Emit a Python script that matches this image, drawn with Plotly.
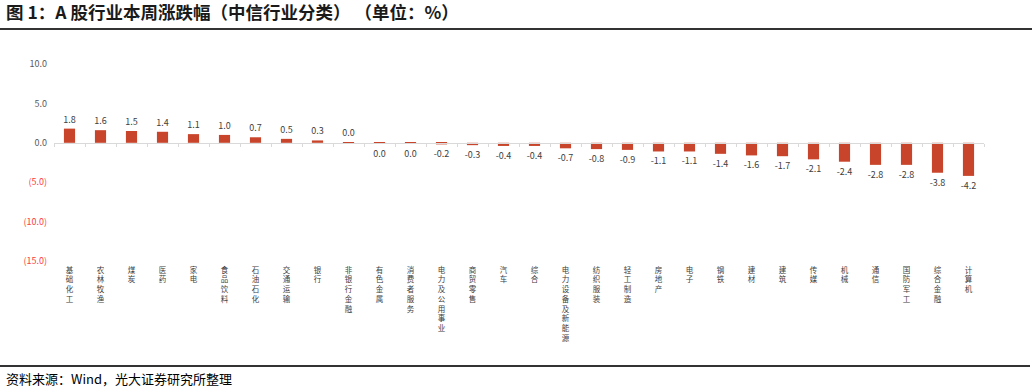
import plotly.graph_objects as go

categories = ["基础化工", "农林牧渔", "煤炭", "医药", "家电", "食品饮料", "石油石化", "交通运输", "银行",
              "非银行金融", "有色金属", "消费者服务", "电力及公用事业", "商贸零售", "汽车", "综合",
              "电力设备及新能源", "纺织服装", "轻工制造", "房地产", "电子", "钢铁", "建材", "建筑",
              "传媒", "机械", "通信", "国防军工", "综合金融", "计算机"]
values = [1.8, 1.6, 1.5, 1.4, 1.1, 1.0, 0.7, 0.5, 0.3, 0.04, -0.03, -0.04, -0.2, -0.3, -0.4,
          -0.4, -0.7, -0.8, -0.9, -1.1, -1.1, -1.4, -1.6, -1.7, -2.1, -2.4, -2.8, -2.8, -3.8, -4.2]
y_ticks = [10, 5, 0, -5, -10, -15]

W, H = 1032, 389
L, R, T, B = 54, 48, 64, 128
pw, ph = W - L - R, H - T - B
YMIN, YMAX = -15, 10

def px2paper_x(px):
    return (px - L) / pw

def px2paper_y(py):
    return (H - B - py) / ph

def fmt_tick(v):
    if v < 0:
        return f'<span style="color:#FF3B3B">({abs(v):.1f})</span>'
    return f"{v:.1f}"

def fmt_val(v):
    r = round(v, 1)
    return "0.0" if r == 0 else f"{r:.1f}"

tick_text = ["<br>".join(list(c)) for c in categories]

FONT = "Noto Sans CJK SC"
bar_color = "#C8442A"

fig = go.Figure()
fig.add_trace(go.Bar(
    x=categories, y=values,
    marker=dict(color=bar_color, line=dict(width=0)),
    width=0.36,
    text=[fmt_val(v) for v in values],
    textposition="outside",
    textfont=dict(family=FONT, size=9, color="#404040"),
    cliponaxis=False,
    constraintext="none",
    hoverinfo="x+y",
    xaxis="x", yaxis="y",
))
# invisible companion trace to carry bottom category labels
fig.add_trace(go.Scatter(
    x=categories, y=[YMIN] * len(categories), mode="markers",
    marker=dict(opacity=0), hoverinfo="skip", showlegend=False,
    xaxis="x2", yaxis="y",
))

zero_pos = (0 - YMIN) / (YMAX - YMIN)

fig.update_layout(
    width=W, height=H,
    margin=dict(l=L, r=R, t=T, b=B, autoexpand=False),
    paper_bgcolor="white", plot_bgcolor="white",
    showlegend=False,
    bargap=0.64,
    font=dict(family=FONT, color="#404040"),
    xaxis=dict(
        type="category", anchor="free", position=zero_pos,
        showline=True, linecolor="#D9D9D9", linewidth=1,
        ticks="outside", ticklen=3, tickcolor="#D9D9D9", tickson="boundaries",
        showticklabels=False, showgrid=False, zeroline=False,
        range=[-0.5, len(categories) - 0.5],
    ),
    xaxis2=dict(
        type="category", overlaying="x", anchor="y", side="bottom",
        matches="x", showline=False, ticks="", showgrid=False, zeroline=False,
        tickangle=0, tickfont=dict(family=FONT, size=7.5, color="#404040"),
        tickvals=categories, ticktext=tick_text,
        ticklabelstandoff=3,
    ),
    yaxis=dict(
        range=[YMIN, YMAX], showgrid=False, zeroline=False, showline=False,
        ticks="", tickvals=y_ticks, ticktext=[fmt_tick(v) for v in y_ticks],
        tickfont=dict(family=FONT, size=9, color="#595959"),
        ticklabelstandoff=6,
    ),
    title=dict(
        text="<b>图 1：A 股行业本周涨跌幅（中信行业分类） （单位：%）</b>",
        x=6 / W, xanchor="left", xref="container",
        y=1 - 13 / H, yanchor="middle", yref="container",
        font=dict(family=FONT, size=17.5, color="#1A1A1A"),
    ),
    annotations=[dict(
        text="资料来源：Wind，光大证券研究所整理",
        xref="paper", yref="paper", x=px2paper_x(4), y=px2paper_y(378),
        xanchor="left", yanchor="middle", showarrow=False,
        font=dict(family=FONT, size=13, color="#000000"),
    )],
    shapes=[
        dict(type="line", xref="paper", yref="paper",
             x0=px2paper_x(0), x1=px2paper_x(1032), y0=px2paper_y(29), y1=px2paper_y(29),
             line=dict(color="#333333", width=2)),
        dict(type="line", xref="paper", yref="paper",
             x0=px2paper_x(0), x1=px2paper_x(1030), y0=px2paper_y(366), y1=px2paper_y(366),
             line=dict(color="#333333", width=2)),
    ],
)

fig.write_html("out.html", config={"displayModeBar": False},
               post_script="document.body.style.margin='0';document.body.style.overflow='hidden';")
